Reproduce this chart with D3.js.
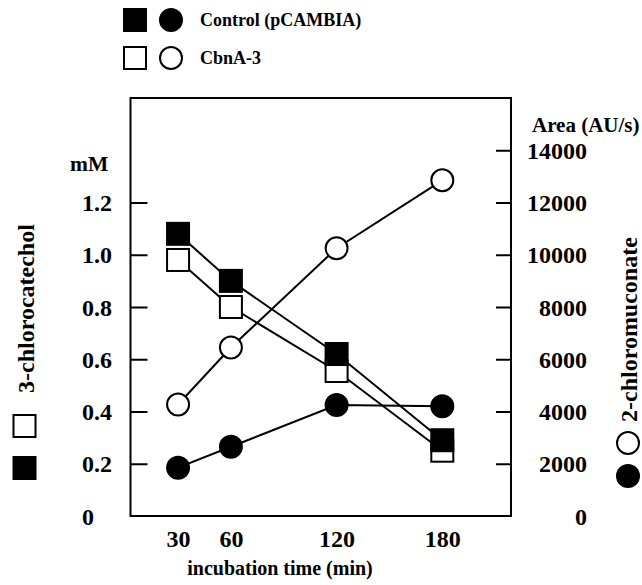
<!DOCTYPE html>
<html>
<head>
<meta charset="utf-8">
<script src="https://cdn.jsdelivr.net/npm/d3@7"></script>
<style>
  body { margin: 0; background: #fff; }
  text { font-family: "Liberation Serif", "Times New Roman", serif; font-weight: bold; fill: #000; }
</style>
</head>
<body>
<svg width="642" height="585"></svg>
<script>
// data
var times = [30, 60, 120, 180];
var controlMM = [1.08, 0.90, 0.62, 0.29];     // 3-chlorocatechol, filled squares
var cbnaMM = [0.98, 0.80, 0.555, 0.25];       // 3-chlorocatechol, open squares
var controlArea = [1850, 2650, 4250, 4200];   // 2-chloromuconate, filled circles
var cbnaArea = [4270, 6450, 10250, 12850];    // 2-chloromuconate, open circles
var xTicks = [30, 60, 120, 180];
var leftTicks = [0, 0.2, 0.4, 0.6, 0.8, 1.0, 1.2];
var rightTicks = [0, 2000, 4000, 6000, 8000, 10000, 12000, 14000];

var svg = d3.select("svg");
var plotL = 130.5, plotR = 511, plotT = 98, plotB = 516;

var x = d3.scaleLinear().domain([3, 219]).range([plotL, plotR]);
var yL = d3.scaleLinear().domain([0, 1.6]).range([plotB, plotT]);
var yR = d3.scaleLinear().domain([0, 16000]).range([plotB, plotT]);

svg.append("rect").attr("width", 642).attr("height", 585).attr("fill", "#fff");

// frame
svg.append("rect")
   .attr("x", plotL).attr("y", plotT)
   .attr("width", plotR - plotL).attr("height", plotB - plotT)
   .attr("fill", "none").attr("stroke", "#000").attr("stroke-width", 2);

// left axis, ticks inside
var gl = svg.append("g")
  .attr("transform", "translate(" + plotL + ",0)")
  .call(d3.axisLeft(yL).tickValues(leftTicks).tickSize(-17).tickPadding(0)
        .tickFormat(function (d) { return d === 0 ? "0" : d3.format(".1f")(d); }));
gl.select(".domain").remove();
gl.selectAll(".tick line").attr("stroke-width", 2)
  .filter(function (d) { return d === 0; }).remove();
gl.selectAll("text").attr("text-anchor", "start").attr("x", 82 - plotL)
  .style("font-size", "24px").attr("dy", "0.34em");

// right axis, ticks inside
var gr = svg.append("g")
  .attr("transform", "translate(" + plotR + ",0)")
  .call(d3.axisRight(yR).tickValues(rightTicks).tickSize(-15).tickPadding(0)
        .tickFormat(d3.format("d")));
gr.select(".domain").remove();
gr.selectAll(".tick line").attr("stroke-width", 2)
  .filter(function (d) { return d === 0; }).remove();
gr.selectAll("text").attr("text-anchor", "end").attr("x", 587 - plotR)
  .style("font-size", "24px").attr("dy", "0.34em");

// bottom axis, labels only
var gb = svg.append("g")
  .attr("transform", "translate(0," + plotB + ")")
  .call(d3.axisBottom(x).tickValues(xTicks).tickSize(0).tickPadding(14));
gb.select(".domain").remove();
gb.selectAll("text").style("font-size", "24px");

svg.append("text").attr("x", 280).attr("y", 575).attr("text-anchor", "middle")
   .style("font-size", "20px").text("incubation time (min)");
svg.append("text").attr("x", 70).attr("y", 171).style("font-size", "21.5px").text("mM");
svg.append("text").attr("x", 532).attr("y", 132).style("font-size", "21px").text("Area (AU/s)");

svg.append("text").attr("transform", "translate(33.5,393) rotate(-90)")
   .style("font-size", "24px").text("3-chlorocatechol");
svg.append("text").attr("transform", "translate(637,422) rotate(-90)")
   .style("font-size", "24px").text("2-chloromuconate");

function series(vals, scale) {
  return vals.map(function (v, i) { return [x(times[i]), scale(v)]; });
}
var line = d3.line();

[series(cbnaMM, yL), series(controlMM, yL), series(cbnaArea, yR), series(controlArea, yR)]
  .forEach(function (pts) {
    svg.append("path").attr("d", line(pts)).attr("fill", "none")
       .attr("stroke", "#000").attr("stroke-width", 2);
  });

var sq = 22, rad = 11;
function squares(pts, filled) {
  svg.append("g").selectAll("rect").data(pts).enter().append("rect")
     .attr("x", function (d) { return d[0] - sq / 2; })
     .attr("y", function (d) { return d[1] - sq / 2; })
     .attr("width", sq).attr("height", sq)
     .attr("fill", filled ? "#000" : "#fff").attr("stroke", "#000").attr("stroke-width", 2);
}
function circles(pts, filled) {
  svg.append("g").selectAll("circle").data(pts).enter().append("circle")
     .attr("cx", function (d) { return d[0]; })
     .attr("cy", function (d) { return d[1]; })
     .attr("r", rad)
     .attr("fill", filled ? "#000" : "#fff").attr("stroke", "#000").attr("stroke-width", 2);
}
squares(series(cbnaMM, yL), false);
squares(series(controlMM, yL), true);
circles(series(cbnaArea, yR), false);
circles(series(controlArea, yR), true);

// legends
squares([[135, 20]], true);
circles([[171, 20]], true);
squares([[135, 58]], false);
circles([[171, 58]], false);
svg.append("text").attr("x", 200).attr("y", 26).style("font-size", "18px").text("Control (pCAMBIA)");
svg.append("text").attr("x", 200).attr("y", 64).style("font-size", "18px").text("CbnA-3");

squares([[24.5, 426]], false);
squares([[24.5, 468]], true);
circles([[628, 443]], false);
circles([[628, 476]], true);
</script>
</body>
</html>
